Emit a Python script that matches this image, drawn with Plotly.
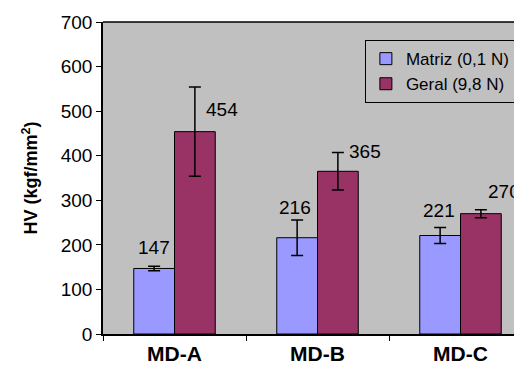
import plotly.graph_objects as go

categories = ["MD-A", "MD-B", "MD-C"]
matriz = [147, 216, 221]
matriz_err = [5, 40, 18]
geral = [454, 365, 270]
geral_err = [100, 42, 9]
series_names = ["Matriz (0,1 N)", "Geral (9,8 N)"]
y_ticks = [0, 100, 200, 300, 400, 500, 600, 700]

# label offsets (px) relative to bar top centre
matriz_lbl_shift = [(0, 21), (-2, 30), (-1, 25)]
geral_lbl_shift = [(27, 22), (27, 20), (23, 22)]

FONT = "Liberation Sans, Arial, sans-serif"
fig = go.Figure()
fig.add_trace(go.Bar(
    x=categories, y=matriz, name=series_names[0], legendgroup="a",
    marker=dict(color="#9999FF", line=dict(color="black", width=1)),
    error_y=dict(type="data", array=matriz_err, color="black", thickness=1.5, width=6),
))
fig.add_trace(go.Bar(
    x=categories, y=geral, name=series_names[1], legendgroup="b",
    marker=dict(color="#993366", line=dict(color="black", width=1)),
    error_y=dict(type="data", array=geral_err, color="black", thickness=1.5, width=6),
))

half_bar = 20.5
for i, (v, s) in enumerate(zip(matriz, matriz_lbl_shift)):
    fig.add_annotation(x=i, y=v, xref="x", yref="y", text=str(v), showarrow=False,
                       xshift=-half_bar + s[0], yshift=s[1], font=dict(size=19, color="black", family=FONT))
for i, (v, s) in enumerate(zip(geral, geral_lbl_shift)):
    fig.add_annotation(x=i, y=v, xref="x", yref="y", text=str(v), showarrow=False,
                       xshift=half_bar + s[0], yshift=s[1], font=dict(size=19, color="black", family=FONT))

fig.add_shape(type="line", xref="paper", yref="paper", x0=0, x1=1, y0=1, y1=1,
              line=dict(color="black", width=1.5))

fig.update_layout(
    width=514, height=358,
    margin=dict(l=95, r=0, t=14, b=32, autoexpand=False),
    paper_bgcolor="white", plot_bgcolor="#C0C0C0",
    barmode="group", bargap=0.43, bargroupgap=0,
    font=dict(family=FONT, color="black", size=19),
    showlegend=True,
    legend=dict(x=0.983, y=0.942, xanchor="right", yanchor="top",
                bgcolor="rgba(0,0,0,0)", bordercolor="black", borderwidth=1,
                font=dict(size=17, family=FONT), tracegroupgap=9,
                traceorder="normal", itemwidth=30),
    xaxis=dict(type="category", range=[-0.5, 2.43], tickson="boundaries",
               ticks="outside", ticklen=5, tickcolor="black", automargin=False,
               showline=True, linecolor="black", linewidth=1.5,
               tickfont=dict(size=21, family=FONT, weight="bold"), showgrid=False),
    yaxis=dict(range=[0, 700], tickvals=y_ticks, ticks="outside", ticklen=5,
               tickcolor="black", showline=True, linecolor="black", linewidth=1.5,
               showgrid=False, zeroline=False, tickfont=dict(size=19, family=FONT),
               automargin=False,
               title=dict(text="<b>HV (kgf/mm<sup>2</sup>)</b>", font=dict(size=18, family=FONT), standoff=18)),
)
fig.write_html("out.html")
